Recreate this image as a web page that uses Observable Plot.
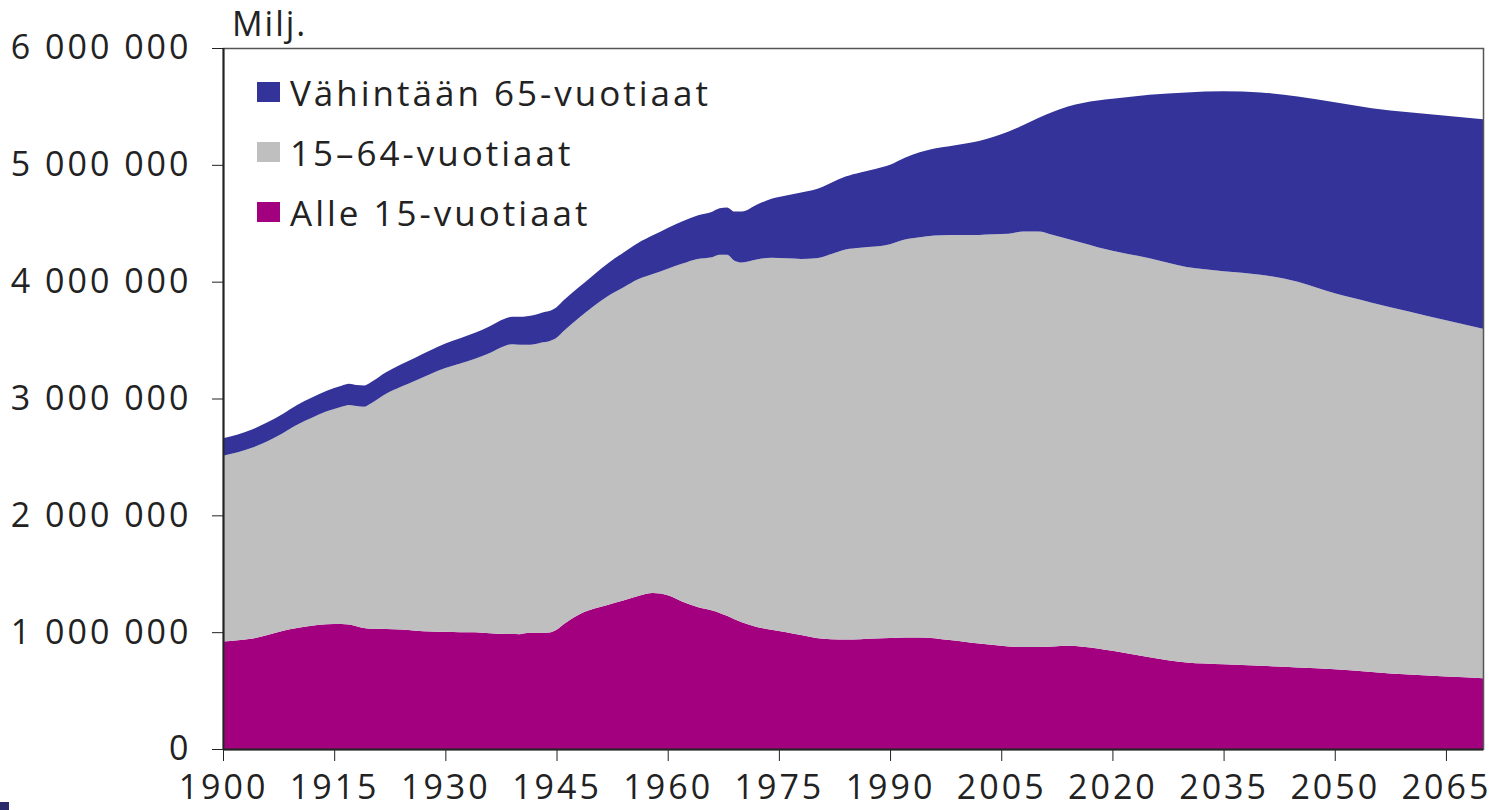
<!DOCTYPE html>
<html>
<head>
<meta charset="utf-8">
<script src="https://cdn.jsdelivr.net/npm/d3@7"></script>
<script src="https://cdn.jsdelivr.net/npm/@observablehq/plot@0.6"></script>
<style>
  html, body { margin: 0; padding: 0; background: #fff; }
  #wrap { position: relative; width: 1497px; height: 810px; font-family: "Open Sans", Lato, sans-serif; color: #222; }
  #unit { position: absolute; left: 232px; top: 0px; font-size: 34px; line-height: normal; letter-spacing: 2px; }
  #legend { position: absolute; left: 257px; top: 62px; font-size: 35px; letter-spacing: 3px; }
  .row { display: flex; align-items: center; height: 60px; }
  .sw { width: 23px; height: 20px; margin-right: 10px; }
  #corner { position: absolute; left: 0; top: 802px; width: 9px; height: 8px; background: #2b2b6b; }
  svg text { fill: #222; letter-spacing: 3px; }
</style>
</head>
<body>
<div id="wrap">
  <div id="chart"></div>
  <div id="unit">Milj.</div>
  <div id="legend"></div>
  <div id="corner"></div>
</div>
<script>
// Years and population by age group (thousands)
const years = [1900,1902,1904,1906,1908,1910,1912,1914,1916,1917,1918,1919,1920,1922,1924,1926,1928,1930,1932,1934,1936,1938,1939,1940,1941,1942,1943,1944,1945,1946,1948,1950,1952,1954,1956,1958,1960,1962,1964,1966,1967,1968,1969,1970,1972,1974,1976,1978,1980,1982,1984,1986,1988,1990,1992,1994,1996,1998,2000,2002,2004,2006,2008,2010,2012,2014,2016,2018,2020,2025,2030,2035,2040,2045,2050,2055,2060,2065,2070];
const under15 = [920,930,945,975,1010,1035,1055,1068,1070,1065,1050,1036,1030,1028,1022,1012,1005,1003,1000,1000,990,985,985,983,993,994,995,997,1020,1070,1150,1200,1235,1270,1310,1335,1315,1260,1215,1185,1165,1140,1110,1085,1045,1020,1000,975,950,940,938,940,945,950,955,955,948,932,918,903,890,878,872,873,878,883,875,860,840,785,740,725,712,698,683,660,637,620,606];
const age15to64 = [1590,1610,1635,1660,1690,1740,1780,1822,1860,1880,1885,1894,1930,2012,2078,2143,2205,2257,2300,2340,2400,2465,2480,2477,2467,2471,2485,2493,2500,2510,2540,2590,2645,2680,2710,2730,2795,2895,2980,3025,3065,3090,3070,3080,3145,3185,3200,3220,3250,3295,3337,3350,3355,3370,3405,3425,3447,3468,3482,3497,3515,3532,3558,3557,3522,3482,3455,3435,3425,3415,3385,3365,3348,3302,3217,3160,3108,3050,2990];
const age65plus = [150,152,157,162,166,170,174,177,180,181,180,181,182,185,190,197,203,210,215,222,228,232,235,240,245,250,255,258,262,263,262,268,280,298,312,332,350,363,372,388,398,405,420,435,468,505,538,568,590,610,625,645,665,680,700,728,745,760,780,805,835,875,910,970,1055,1135,1200,1255,1300,1400,1495,1540,1560,1585,1635,1665,1705,1750,1794];

const groups = ["Alle 15-vuotiaat", "15–64-vuotiaat", "Vähintään 65-vuotiaat"];
const colors = ["#a3007f", "#bfbfbf", "#333399"];
const legendOrder = ["Vähintään 65-vuotiaat", "15–64-vuotiaat", "Alle 15-vuotiaat"];
const xTicks = [1900,1915,1930,1945,1960,1975,1990,2005,2020,2035,2050,2065];
const yTicks = [0,1000000,2000000,3000000,4000000,5000000,6000000];

const series = [under15, age15to64, age65plus];
const data = [];
years.forEach((yr, i) => {
  groups.forEach((g, k) => data.push({year: yr, group: g, value: series[k][i] * 1000}));
});

const fmt = v => d3.format(",")(v).replace(/,/g, " ");

const chart = Plot.plot({
  width: 1497,
  height: 810,
  marginLeft: 223,
  marginRight: 14,
  marginTop: 48,
  marginBottom: 61,
  style: {fontFamily: '"Open Sans", Lato, sans-serif', fontSize: "34px", background: "#fff"},
  x: {domain: [1900, 2070], ticks: xTicks, tickFormat: "d", tickSize: 12, tickPadding: 13, label: null},
  y: {domain: [0, 6000000], ticks: yTicks, tickFormat: fmt, tickSize: 11, tickPadding: 21, label: null},
  color: {domain: groups, range: colors},
  marks: [
    Plot.areaY(data, {x: "year", y: "value", fill: "group", order: groups, curve: "monotone-x"}),
    Plot.frame({stroke: "#555", strokeWidth: 1.5}),
    Plot.ruleX([1900], {stroke: "#222", strokeWidth: 2}),
    Plot.ruleY([0], {stroke: "#222", strokeWidth: 2})
  ]
});
document.getElementById("chart").appendChild(chart);

const legend = document.getElementById("legend");
legendOrder.forEach(g => {
  const row = document.createElement("div");
  row.className = "row";
  const sw = document.createElement("div");
  sw.className = "sw";
  sw.style.background = colors[groups.indexOf(g)];
  const t = document.createElement("span");
  t.textContent = g;
  row.appendChild(sw);
  row.appendChild(t);
  legend.appendChild(row);
});
</script>
</body>
</html>
